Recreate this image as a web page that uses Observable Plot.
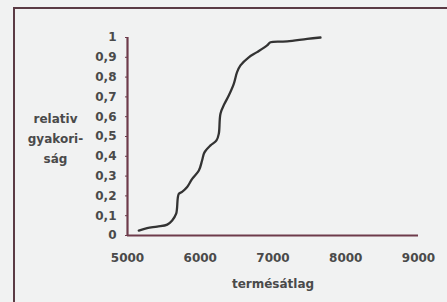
<!DOCTYPE html>
<html>
<head>
<meta charset="utf-8">
<script src="https://cdn.jsdelivr.net/npm/d3@7"></script>
<script src="https://cdn.jsdelivr.net/npm/@observablehq/plot@0.6"></script>
<style>
  html, body { margin: 0; padding: 0; background: #f1f2f2; }
  #wrap { position: relative; width: 447px; height: 302px; overflow: hidden; }
  #frame { position: absolute; left: 13px; top: 7px; width: 460px; height: 320px;
           border-left: 2px solid #5b3b45; border-top: 2px solid #5b3b45; pointer-events: none; }
</style>
</head>
<body>
<div id="wrap"><div id="frame"></div></div>
<script>
const termesatlag = [5155, 5270, 5408, 5546, 5614, 5669, 5705, 5750, 5820, 5889, 5981, 6026, 6058, 6141, 6223, 6255, 6278, 6333, 6392, 6461, 6506, 6553, 6667, 6781, 6919, 6966, 7195, 7470, 7653];
const relGyak = [0.025, 0.037, 0.045, 0.055, 0.076, 0.11, 0.21, 0.22, 0.245, 0.286, 0.328, 0.38, 0.42, 0.455, 0.48, 0.514, 0.615, 0.665, 0.707, 0.766, 0.825, 0.859, 0.9, 0.926, 0.96, 0.976, 0.98, 0.993, 1.0];
const xTicks = [5000, 6000, 7000, 8000, 9000];
const yTicks = [0, 0.1, 0.2, 0.3, 0.4, 0.5, 0.6, 0.7, 0.8, 0.9, 1];
const xLabel = "termésátlag";
const yLabel = "relativ\ngyakori-\nság";

const data = termesatlag.map((x, i) => ({x, y: relGyak[i]}));
const axisColor = "#6e3b4b";
const textColor = "#4a4a4a";

const chart = Plot.plot({
  width: 447,
  height: 302,
  marginLeft: 127,
  marginRight: 29,
  marginTop: 37,
  marginBottom: 67,
  style: { background: "transparent", fontFamily: "DejaVu Sans", fontWeight: "bold", fontSize: "12px", color: textColor },
  x: { domain: [5000, 9000] },
  y: { domain: [0, 1] },
  marks: [
    Plot.axisY({ticks: yTicks, tickSize: 2, tickPadding: 9, stroke: axisColor, fill: textColor,
      tickFormat: d => String(+d.toFixed(1)).replace(".", ","), label: null, fontWeight: "bold"}),
    Plot.axisX({ticks: xTicks, tickSize: 0, tickPadding: 18, fill: textColor, tickFormat: d => String(d), label: null, fontWeight: "bold"}),
    Plot.line(data, {x: "x", y: "y", stroke: "#333333", strokeWidth: 2.3, curve: "catmull-rom"}),
    Plot.ruleX([5000], {stroke: axisColor, strokeWidth: 2.2}),
    Plot.ruleY([0], {stroke: axisColor, strokeWidth: 2.2}),
    Plot.text([xLabel], {frameAnchor: "bottom", dy: 52, fill: textColor, fontWeight: "bold", fontSize: 12}),
    Plot.text([yLabel], {frameAnchor: "left", dx: -72, textAnchor: "middle", lineAnchor: "middle", lineHeight: 1.67, fill: textColor, fontWeight: "bold", fontSize: 12})
  ]
});
document.getElementById("wrap").prepend(chart);
chart.style.position = "absolute";
chart.style.left = "0";
chart.style.top = "0";
</script>
</body>
</html>
